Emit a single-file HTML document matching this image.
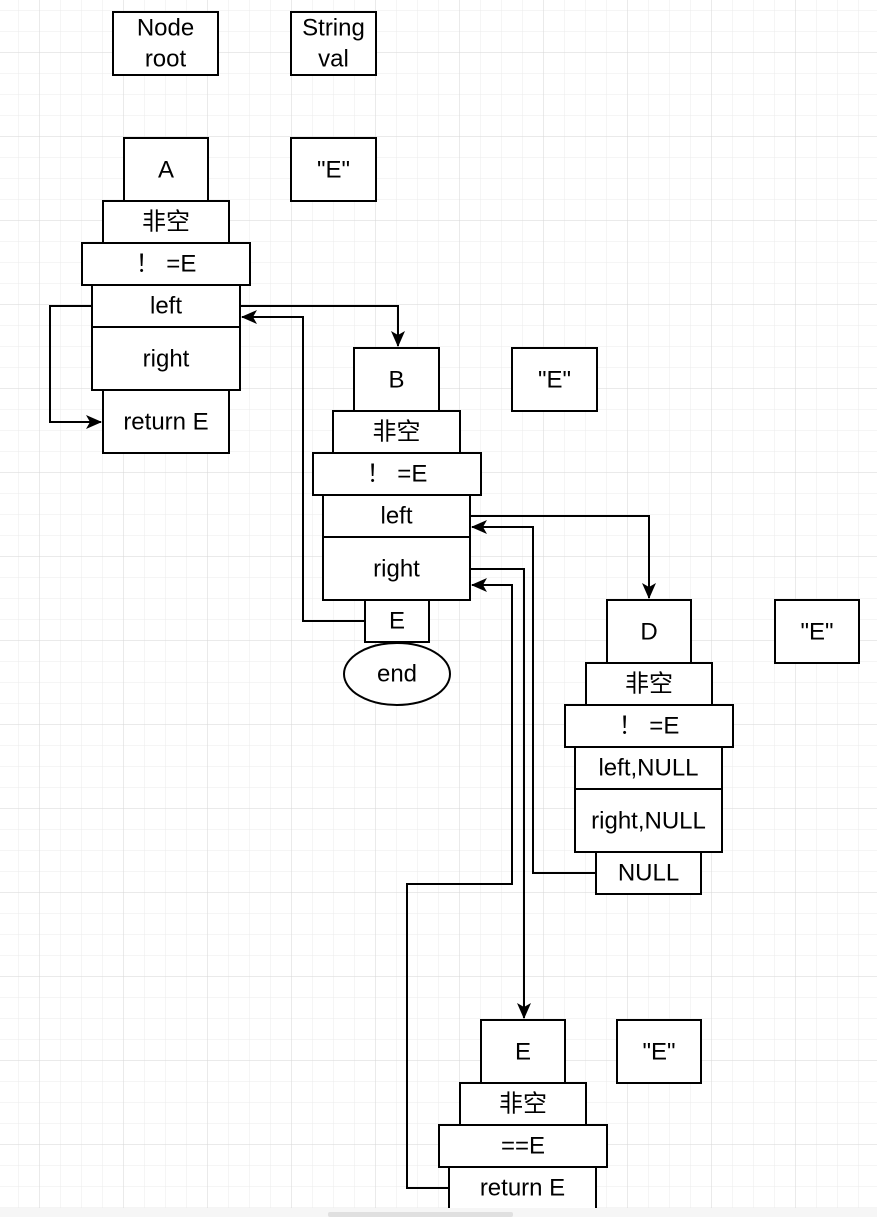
<!DOCTYPE html>
<html><head><meta charset="utf-8"><style>
html,body{margin:0;padding:0;background:#fff;}
svg{display:block;}
text{font-family:"Liberation Sans","Noto Sans CJK SC",sans-serif;font-size:24px;fill:#000;text-anchor:middle;dominant-baseline:central;}
</style></head><body>
<svg width="877" height="1217" viewBox="0 0 877 1217" xmlns="http://www.w3.org/2000/svg">
<defs>
<pattern id="mi" x="18" y="10" width="21" height="21" patternUnits="userSpaceOnUse"><path d="M0 0V21M0 0H21" stroke="#ebebeb" stroke-width="1" fill="none"/></pattern>
<pattern id="ma" x="39" y="52" width="84" height="84" patternUnits="userSpaceOnUse"><path d="M0 0V84M0 0H84" stroke="#d6d6d6" stroke-width="1" fill="none"/></pattern>
<marker id="ar" viewBox="0 0 16 14" refX="15" refY="7" markerWidth="16" markerHeight="14" markerUnits="userSpaceOnUse" orient="auto"><path d="M0 0L16 7L0 14L4 7Z" fill="#000"/></marker>
</defs>
<rect width="877" height="1208" fill="url(#mi)"/>
<rect width="877" height="1208" fill="url(#ma)"/>
<g fill="#fff" stroke="#000" stroke-width="2">
<rect x="113" y="12" width="105" height="63"/>
<rect x="291" y="12" width="85" height="63"/>
<rect x="124" y="138" width="84" height="63"/>
<rect x="291" y="138" width="85" height="63"/>
<rect x="103" y="201" width="126" height="42"/>
<rect x="82" y="243" width="168" height="42"/>
<rect x="92" y="285" width="148" height="42"/>
<rect x="92" y="327" width="148" height="63"/>
<rect x="103" y="390" width="126" height="63"/>

<rect x="354" y="348" width="85" height="63"/>
<rect x="512" y="348" width="85" height="63"/>
<rect x="333" y="411" width="127" height="42"/>
<rect x="313" y="453" width="168" height="42"/>
<rect x="323" y="495" width="147" height="42"/>
<rect x="323" y="537" width="147" height="63"/>
<rect x="365" y="600" width="64" height="42"/>
<ellipse cx="397" cy="674" rx="53" ry="31"/>

<rect x="607" y="600" width="84" height="63"/>
<rect x="775" y="600" width="84" height="63"/>
<rect x="586" y="663" width="126" height="42"/>
<rect x="565" y="705" width="168" height="42"/>
<rect x="575" y="747" width="147" height="42"/>
<rect x="575" y="789" width="147" height="63"/>
<rect x="596" y="852" width="105" height="42"/>

<rect x="481" y="1020" width="84" height="63"/>
<rect x="617" y="1020" width="84" height="63"/>
<rect x="460" y="1083" width="126" height="42"/>
<rect x="439" y="1125" width="168" height="42"/>
<rect x="449" y="1167" width="147" height="50"/>
</g>
<g fill="none" stroke="#000" stroke-width="2">
<path d="M240 306H398V346" marker-end="url(#ar)"/>
<path d="M365 621H303V317H242" marker-end="url(#ar)"/>
<path d="M92 306H50V422H101" marker-end="url(#ar)"/>
<path d="M470 516H649V598" marker-end="url(#ar)"/>
<path d="M596 873H533V527H472" marker-end="url(#ar)"/>
<path d="M470 569H524V1018" marker-end="url(#ar)"/>
<path d="M449 1188H407V884H512V585H472" marker-end="url(#ar)"/>
</g>
<text x="165.5" y="28">Node</text><text x="165.5" y="59">root</text>
<text x="333.5" y="28">String</text><text x="333.5" y="59">val</text>
<text x="166" y="170">A</text><text x="333.5" y="170">"E"</text>
<text x="166" y="222">非空</text><text x="166" y="264">！ =E</text>
<text x="166" y="306">left</text><text x="166" y="359">right</text><text x="166" y="422">return E</text>

<text x="396.5" y="380">B</text><text x="554.5" y="380">"E"</text>
<text x="396.5" y="432">非空</text><text x="397" y="474">！ =E</text>
<text x="396.5" y="516">left</text><text x="396.5" y="569">right</text>
<text x="397" y="621">E</text><text x="397" y="674">end</text>

<text x="649" y="632">D</text><text x="817" y="632">"E"</text>
<text x="649" y="684">非空</text><text x="649" y="726">！ =E</text>
<text x="648.5" y="768">left,NULL</text><text x="648.5" y="821">right,NULL</text>
<text x="648.5" y="873">NULL</text>

<text x="523" y="1052">E</text><text x="659" y="1052">"E"</text>
<text x="523" y="1104">非空</text><text x="523" y="1146">==E</text>
<text x="522.5" y="1188">return E</text>
<rect x="0" y="1208" width="877" height="9" fill="#f6f6f6"/>
<rect x="328" y="1212" width="185" height="5" rx="2" fill="#e0e0e0"/>
</svg>
</body></html>
